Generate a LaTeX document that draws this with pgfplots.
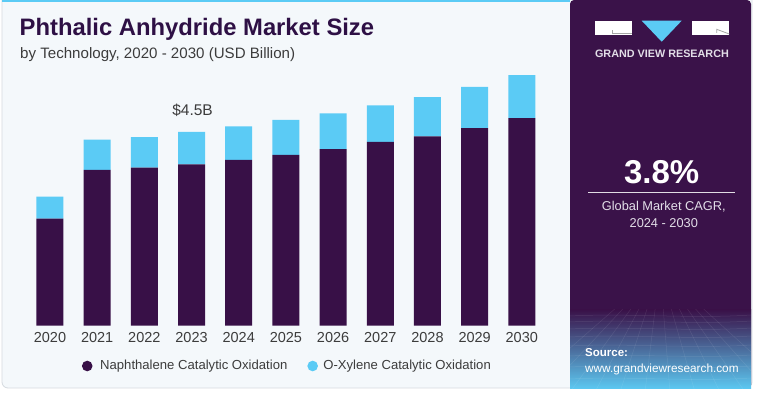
\documentclass[border=0pt]{standalone}
\usepackage{fontspec}
\setmainfont{Liberation Sans}
\usepackage{pgfplots}
\pgfplotsset{compat=1.18}
\definecolor{darkp}{HTML}{381047}
\definecolor{lightb}{HTML}{5BCBF5}
\definecolor{panel}{HTML}{3A1249}
\definecolor{bgc}{HTML}{F4F8FB}
\definecolor{bord}{HTML}{D5DADF}
\definecolor{titlec}{HTML}{2E1045}
\definecolor{txt}{HTML}{3C3C3C}
\definecolor{midb}{HTML}{4A63B0}
\definecolor{botb}{HTML}{5CC9F2}
\definecolor{gvrtxt}{HTML}{E2DEE8}
\newcommand{\fs}[1]{\fontsize{#1bp}{#1bp}\selectfont}
\begin{document}
\begin{tikzpicture}
\useasboundingbox (0,0) rectangle (757bp,393bp);
\begin{scope}[x=1bp,y=-1bp,yshift=393bp]
 \fill[white] (0,0) rectangle (757,393);
 \filldraw[fill=bgc,draw=bord,line width=0.8bp,rounded corners=6bp] (2,-8) rectangle (752,388);
 \fill[lightb] (2,0) rectangle (570,2);
 % right panel
 \fill[panel,rounded corners=4bp] (570,0) rectangle (751,389);
 \shade[top color=panel, middle color=midb, bottom color=botb] (570,310) rectangle (751,389);
 \begin{scope}
  \clip (570,310) rectangle (751,389);
  \foreach \yy in {316,322,329,337,346,356,367,379} {
    \draw[white,opacity=0.1,line width=0.5bp] (570,\yy) .. controls (630,\yy-3) and (690,\yy+3) .. (751,\yy-1);
  }
  \foreach \xx in {520,545,570,595,620,645,670,695,720,745,770,795} {
    \draw[white,opacity=0.09,line width=0.5bp] (660+0.25*\xx-165,300) -- (\xx,392);
  }
 \end{scope}
 % logo
 \fill[white] (595,20.7) rectangle (631.7,35);
 \draw[gray!70,line width=0.8bp] (612.7,30.5) -- (612.7,33) -- (631.7,33);
 \fill[lightb] (641.7,20.7) -- (681.7,20.7) -- (661.7,41.7) -- cycle;
 \fill[white] (691.7,20.7) rectangle (729.3,35);
 \draw[gray!70,line width=0.8bp] (716.7,33) -- (716.7,29.3) -- (729.3,34);
 \node[anchor=base,inner sep=0pt,font=\bfseries\fs{10.8},text=gvrtxt] at (662,57.2) {GRAND VIEW RESEARCH};
 % CAGR
 \node[anchor=base,inner sep=0pt,font=\bfseries\fs{33},text=white] at (661.7,183.3) {3.8\%};
 \draw[white!85!panel,line width=0.9bp] (588.3,192.3) -- (735,192.3);
 \node[anchor=base,inner sep=0pt,font=\fs{12.8},text=gvrtxt] at (663.8,211) {Global Market CAGR,};
 \node[anchor=base,inner sep=0pt,font=\fs{12.8},text=gvrtxt] at (663.8,228) {2024 - 2030};
 % source
 \node[anchor=base west,inner sep=0pt,font=\bfseries\fs{11.5},text=white] at (585,356.7) {Source:};
 \node[anchor=base west,inner sep=0pt,font=\fs{11.8},text=white] at (585,372.3) {www.grandviewresearch.com};
 % titles
 \node[anchor=base west,inner sep=0pt,font=\bfseries\fs{23.8},text=titlec] at (19.5,36) {Phthalic Anhydride Market Size};
 \node[anchor=base west,inner sep=0pt,font=\fs{15.1},text=txt] at (20,58.3) {by Technology, 2020 - 2030 (USD Billion)};
\end{scope}
\begin{axis}[
  at={(26.4bp,67.3bp)}, anchor=south west,
  scale only axis, width=519bp, height=260bp,
  xmin=-0.5, xmax=10.5, ymin=0, ymax=6.04,
  ybar stacked, bar width=27bp,
  axis x line*=bottom, axis y line=none,
  x axis line style={draw=none},
  major tick length=0pt,
  xtick={0,1,2,3,4,5,6,7,8,9,10},
  xticklabels={2020,2021,2022,2023,2024,2025,2026,2027,2028,2029,2030},
  xticklabel style={font=\fs{14.5}, text=txt, anchor=north, inner sep=0pt, yshift=-6bp},
  clip=false,
  legend columns=2,
  legend style={at={(0.1066,-0.155)}, anchor=west, draw=none, fill=none, inner sep=0pt,
    font=\fs{13.1}, text=txt,
    /tikz/every even column/.append style={column sep=20bp},
    nodes={inner sep=0pt}},
]
\addplot[fill=darkp, draw=none,
  legend image code/.code={\fill[darkp] (5.3bp,0bp) circle (5.3bp); \path (0bp,0bp) (18.3bp,0bp);}]
  coordinates {(0,2.49) (1,3.62) (2,3.67) (3,3.75) (4,3.85) (5,3.97) (6,4.10) (7,4.27) (8,4.40) (9,4.59) (10,4.82)};
\addlegendentry{Naphthalene Catalytic Oxidation}
\addplot[fill=lightb, draw=none,
  legend image code/.code={\fill[lightb] (5.3bp,0bp) circle (5.3bp); \path (0bp,0bp) (16bp,0bp);}]
  coordinates {(0,0.51) (1,0.70) (2,0.71) (3,0.75) (4,0.78) (5,0.81) (6,0.83) (7,0.85) (8,0.91) (9,0.96) (10,1.00)};
\addlegendentry{O-Xylene Catalytic Oxidation}
\node[anchor=base, inner sep=0pt, font=\fs{15.5}, text=txt] at (axis cs:3,4.5) [yshift=16bp, xshift=1bp] {\$4.5B};
\end{axis}
\end{tikzpicture}
\end{document}
